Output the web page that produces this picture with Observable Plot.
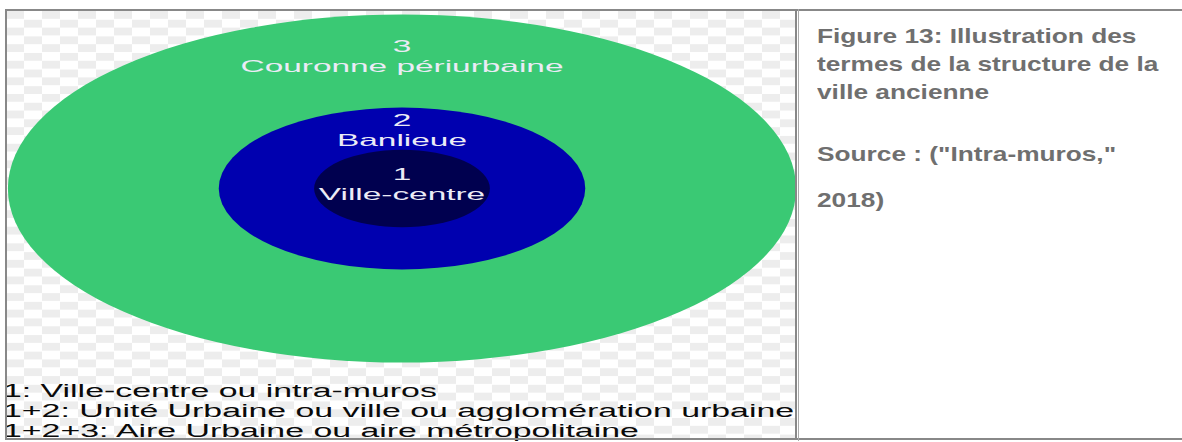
<!DOCTYPE html>
<html>
<head>
<meta charset="utf-8">
<script src="https://cdn.jsdelivr.net/npm/d3@7"></script>
<script src="https://cdn.jsdelivr.net/npm/@observablehq/plot@0.6"></script>
<style>
  html, body { margin: 0; padding: 0; background: #fff; }
  #page { position: relative; width: 1182px; height: 442px; overflow: hidden; background: #fff;
          font-family: "Liberation Sans", Arial, sans-serif; }
  #left { position: absolute; left: 6px; top: 11px; width: 789px; height: 428px;
          background: repeating-conic-gradient(#ededed 0% 25%, #ffffff 0% 50%) 18px 0 / 36px 16.6px; }
  #chart { position: absolute; left: 1px; top: -11px; width: 789px; }
  #chart svg { max-width: none; }
  #legend { position: absolute; left: -3px; top: 370px; font-size: 18px; line-height: 20px; color: #0a0a0a; width: 800px; }
  #legend div { transform: scaleX(1.88); transform-origin: 0 0; white-space: nowrap; width: max-content; }
  #frameTop { position: absolute; left: 5px; top: 9px; width: 1177px; height: 2px; background: #888; }
  #frameLeft { position: absolute; left: 5px; top: 9px; width: 2px; height: 431px; background: #888; }
  #frameBottom { position: absolute; left: 5px; top: 438px; width: 1177px; height: 2px; background: #888; }
  #divider { position: absolute; left: 795px; top: 9px; width: 2px; height: 431px; background: #888; }
  #divider2 { position: absolute; left: 798px; top: 9px; width: 1px; height: 432px; background: #aaa; }
  #right { position: absolute; left: 817px; top: 22px; color: #6f6f6f; font-weight: bold; font-size: 21px; }
  #right .l { transform: scaleX(1.25); transform-origin: 0 0; white-space: nowrap; width: max-content; }
  #title .l { height: 28px; line-height: 28px; }
  #source { margin-top: 34px; }
  #source .l { height: 46px; line-height: 28px; }
</style>
</head>
<body>
<div id="page">
  <div id="left">
    <div id="chart"></div>
    <div id="legend"></div>
  </div>
  <div id="frameTop"></div>
  <div id="frameLeft"></div>
  <div id="frameBottom"></div>
  <div id="divider"></div>
  <div id="divider2"></div>
  <div id="right"><div id="title"></div><div id="source"></div></div>
</div>
<script>
// ---- data ----
const ringIds = ["3", "2", "1"];
const ringNames = ["Couronne périurbaine", "Banlieue", "Ville-centre"];
const ringRadius = [100, 46.5, 22.3];
const legendLines = [
  "1: Ville-centre ou intra-muros",
  "1+2: Unité Urbaine ou ville ou agglomération urbaine",
  "1+2+3: Aire Urbaine ou aire métropolitaine"
];
const titleLines = ["Figure 13: Illustration des", "termes de la structure de la", "ville ancienne"];
const sourceLines = ['Source : ("Intra-muros,"', "2018)"];

// ---- styles / layout ----
const ringColors = ["#3ac974", "#0000af", "#00004f"];
const labelDy = [41, 22, 34];
const STRETCH = 2.265;
const TEXT_STRETCH = 2.0;

const rings = ringIds.map((id, i) => ({id, name: ringNames[i], radius: ringRadius[i]}));

function stretchCircles(index, scales, values, dims, ctx, next) {
  const g = next(index, scales, values, dims, ctx);
  g.querySelectorAll("circle").forEach(c => {
    const cx = +c.getAttribute("cx"), cy = +c.getAttribute("cy");
    c.setAttribute("transform", `translate(${cx},${cy}) scale(${STRETCH},1) translate(${-cx},${-cy})`);
  });
  return g;
}
function stretchText(index, scales, values, dims, ctx, next) {
  const g = next(index, scales, values, dims, ctx);
  g.querySelectorAll("text").forEach(t => {
    t.setAttribute("transform", (t.getAttribute("transform") || "") + ` scale(${TEXT_STRETCH},1)`);
  });
  return g;
}

const W = 789, H = 376, R = 174;
const chart = Plot.plot({
  width: W, height: H, margin: 0,
  style: {background: "transparent", overflow: "visible", maxWidth: "none"},
  x: {domain: [-1, 1], axis: null},
  y: {domain: [-(H / 2) / R * 100, (H / 2) / R * 100], axis: null},
  r: {type: "linear", domain: [0, 100], range: [0, R]},
  color: {domain: ringIds, range: ringColors},
  marks: [
    Plot.dot(rings, {x: () => 0, y: () => 0, r: "radius", fill: "id", stroke: null, render: stretchCircles}),
    ...rings.map((d, i) => Plot.text([d], {
      x: () => 0, y: "radius", text: r => `${r.id}\n${r.name}`,
      lineAnchor: "middle", lineHeight: 1.18, dy: labelDy[i],
      fill: "#ebebf6", fontSize: 16.7, fontFamily: "Liberation Sans, Arial, sans-serif",
      render: stretchText
    }))
  ]
});
document.getElementById("chart").appendChild(chart);

const leg = document.getElementById("legend");
legendLines.forEach(s => { const d = document.createElement("div"); d.textContent = s; leg.appendChild(d); });
const tt = document.getElementById("title");
titleLines.forEach(s => { const d = document.createElement("div"); d.className = "l"; d.textContent = s; tt.appendChild(d); });
const so = document.getElementById("source");
sourceLines.forEach(s => { const d = document.createElement("div"); d.className = "l"; d.textContent = s; so.appendChild(d); });
</script>
</body>
</html>
